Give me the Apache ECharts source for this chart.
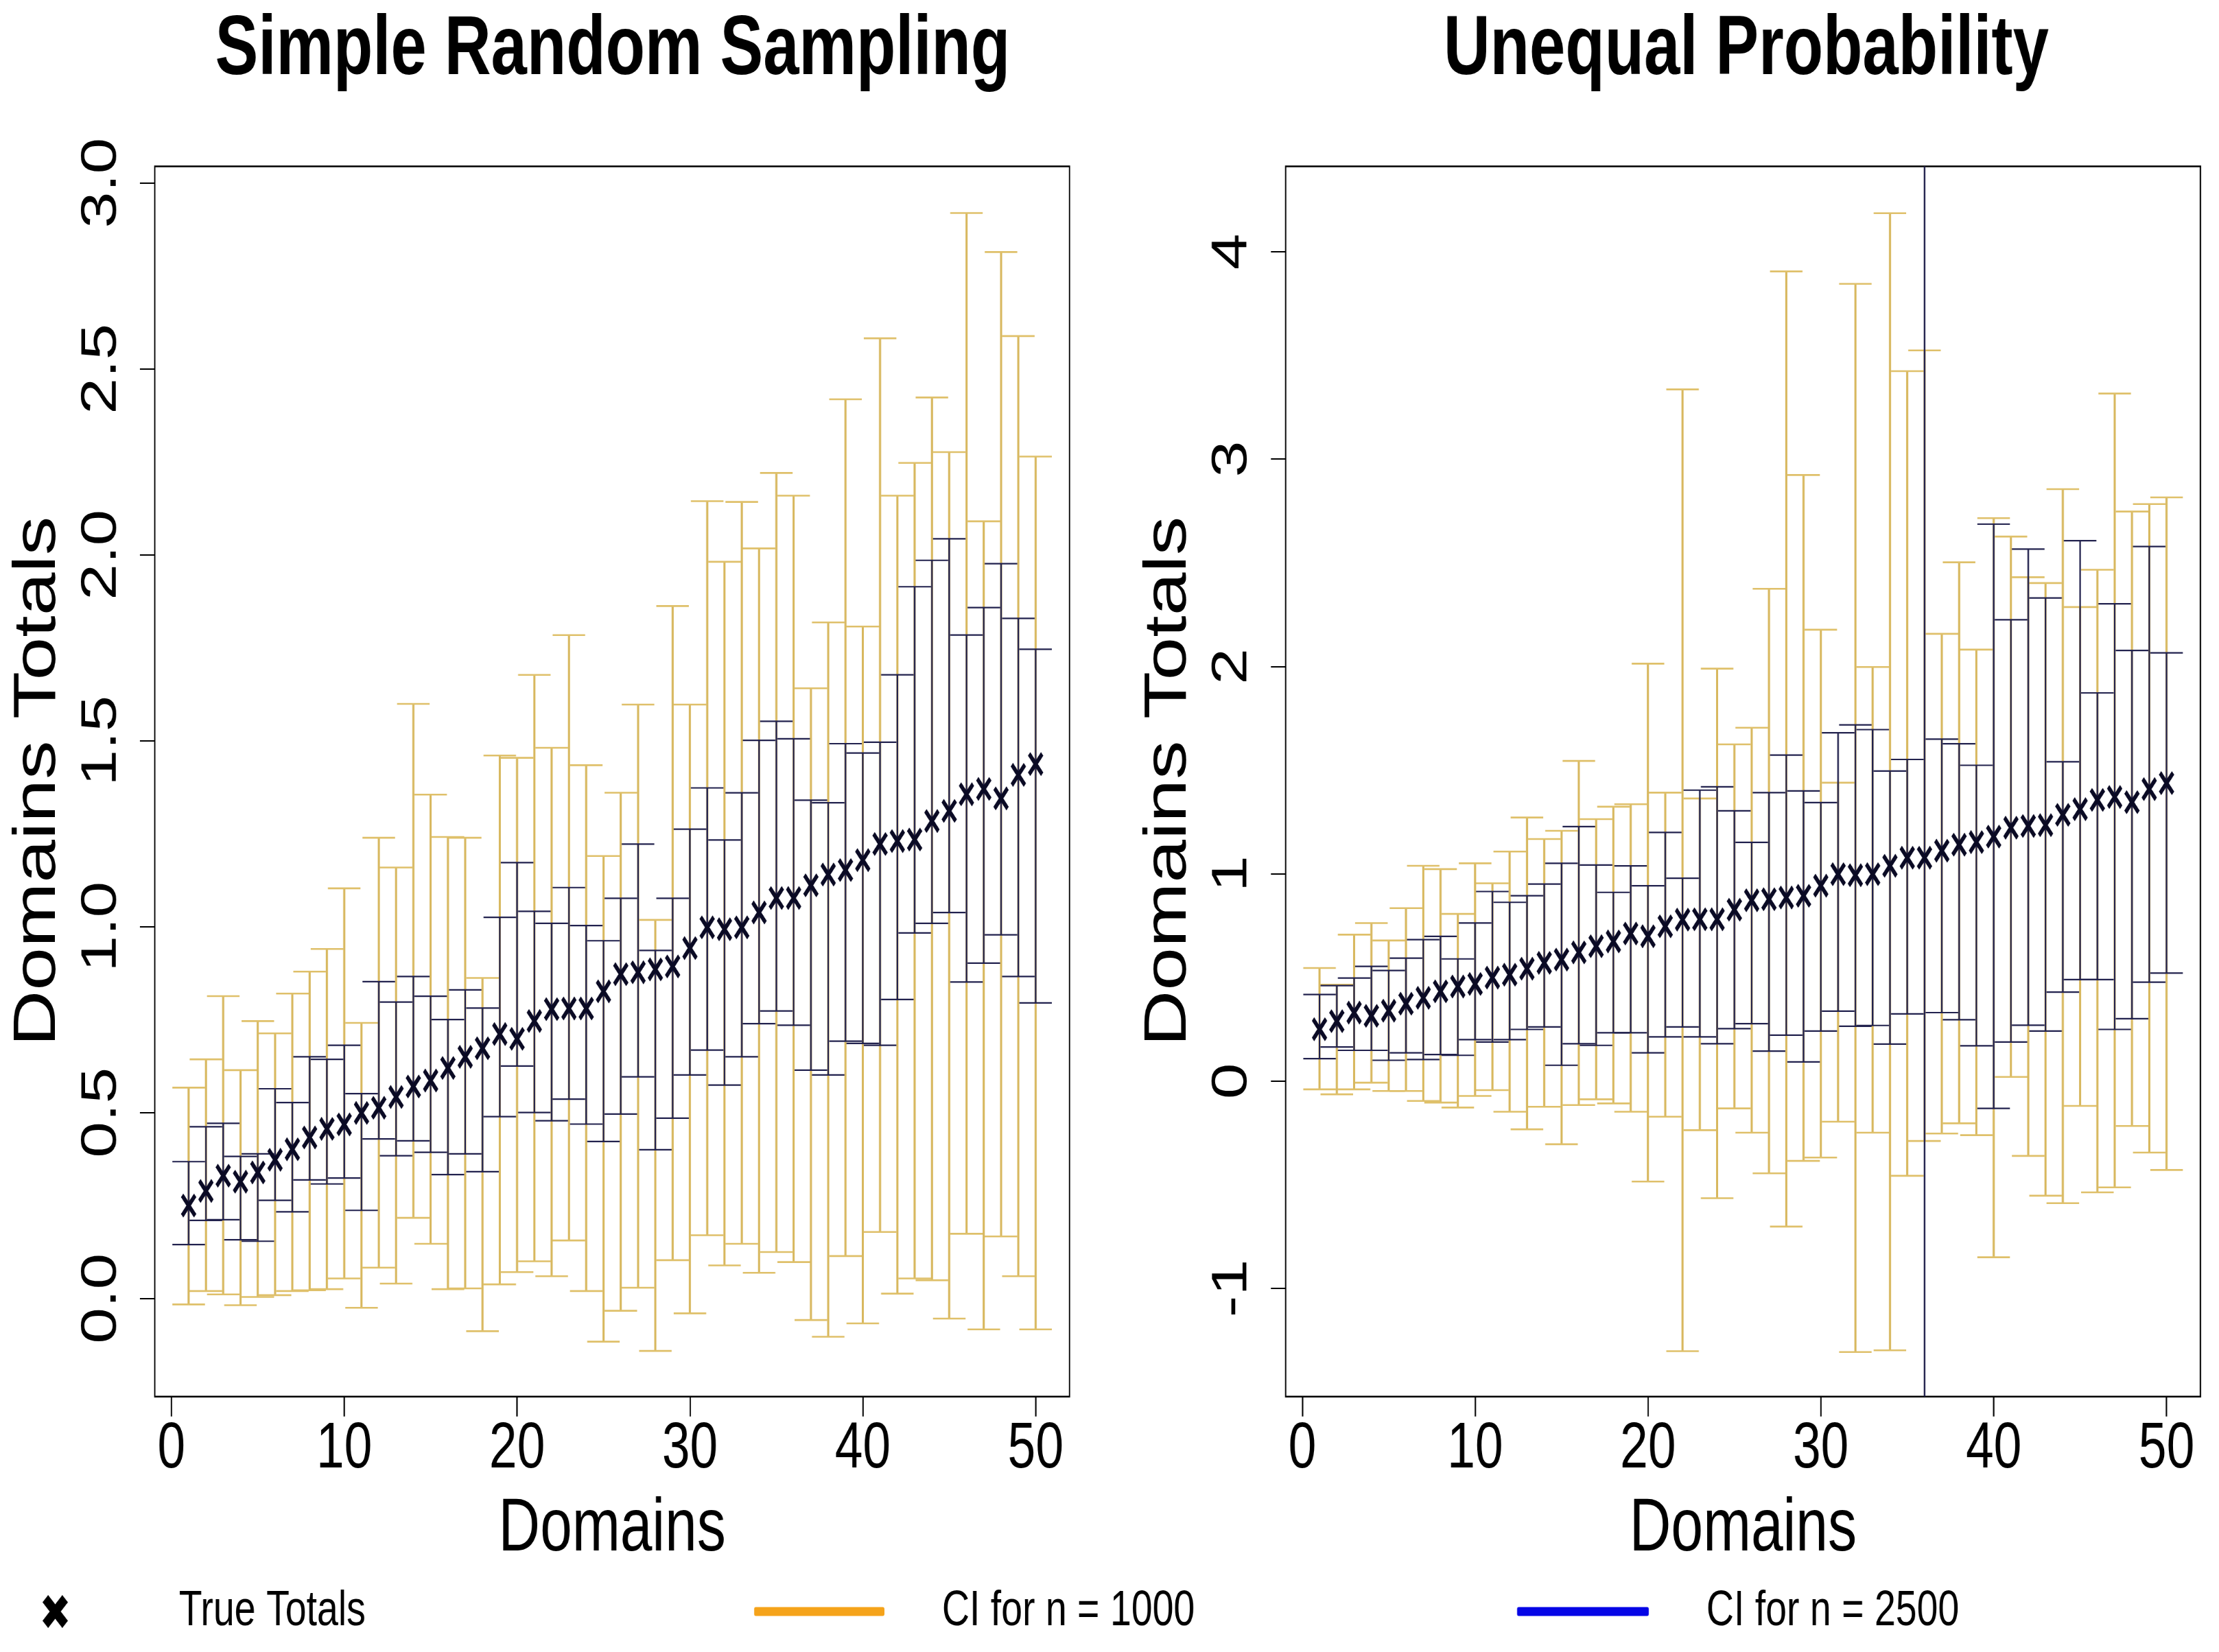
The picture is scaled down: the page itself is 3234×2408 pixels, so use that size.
<!DOCTYPE html>
<html>
<head>
<meta charset="utf-8">
<script src="https://cdn.jsdelivr.net/npm/echarts@6/dist/echarts.min.js"></script>
<style>
html,body{margin:0;padding:0;width:3234px;height:2408px;overflow:hidden;background:#ffffff;}
#chart{position:absolute;left:0;top:0;width:4200px;height:2408px;transform:scaleX(0.77);transform-origin:0 0;}
</style>
</head>
<body>
<div id="chart"></div>
<script>
// ---------- data ----------
const domains = [1,2,3,4,5,6,7,8,9,10,11,12,13,14,15,16,17,18,19,20,21,22,23,24,25,
                 26,27,28,29,30,31,32,33,34,35,36,37,38,39,40,41,42,43,44,45,46,47,48,49,50];

const trueTotals = [0.250,0.289,0.330,0.314,0.339,0.373,0.401,0.433,0.456,0.468,
                    0.499,0.513,0.542,0.570,0.586,0.620,0.650,0.673,0.711,0.698,
                    0.746,0.778,0.780,0.780,0.826,0.872,0.877,0.885,0.893,0.942,
                    0.998,0.993,0.998,1.038,1.077,1.077,1.111,1.140,1.152,1.179,
                    1.222,1.230,1.234,1.284,1.311,1.356,1.370,1.345,1.408,1.437];

// Simple Random Sampling
const srsLo1000 = [-0.016,0.020,0.011,-0.018,0.004,0.009,0.020,0.022,0.025,0.054,
                   -0.025,0.083,0.040,0.217,0.147,0.025,0.027,-0.088,0.038,0.071,
                   0.100,0.060,0.156,0.020,-0.116,-0.033,0.029,-0.141,0.103,-0.040,
                   0.170,0.089,0.147,0.069,0.125,0.098,-0.058,-0.103,0.114,-0.067,
                   0.179,0.013,0.054,0.049,-0.054,0.174,-0.083,0.167,0.060,-0.083];
const srsHi1000 = [0.567,0.643,0.813,0.614,0.746,0.713,0.820,0.879,0.940,1.103,
                   0.741,1.239,1.159,1.599,1.355,1.241,1.239,0.862,1.460,1.454,
                   1.677,1.481,1.784,1.434,1.190,1.360,1.597,1.018,1.862,1.597,
                   2.144,1.981,2.142,2.017,2.220,2.159,1.641,1.818,2.418,1.807,
                   2.582,2.159,2.247,2.423,2.276,2.919,2.090,2.814,2.588,2.264];
const srsLo2500 = [0.145,0.210,0.212,0.158,0.154,0.264,0.233,0.319,0.308,0.324,
                   0.237,0.429,0.384,0.424,0.393,0.333,0.389,0.341,0.489,0.625,
                   0.500,0.478,0.536,0.469,0.422,0.496,0.596,0.400,0.485,0.601,
                   0.668,0.574,0.650,0.739,0.773,0.735,0.614,0.601,0.692,0.686,
                   0.681,0.804,0.983,1.009,1.038,0.851,0.902,0.978,0.866,0.795];
const srsHi2500 = [0.368,0.462,0.471,0.382,0.389,0.564,0.527,0.650,0.643,0.681,
                   0.551,0.852,0.797,0.866,0.813,0.750,0.830,0.781,1.025,1.172,
                   1.041,1.009,1.105,1.003,0.962,1.076,1.222,0.936,1.076,1.262,
                   1.373,1.233,1.360,1.501,1.552,1.505,1.340,1.333,1.492,1.467,
                   1.496,1.677,1.914,1.985,2.043,1.784,1.858,1.976,1.829,1.746];

// Unequal Probability
const upLo1000 = [-0.040,-0.064,-0.040,-0.008,-0.048,-0.048,-0.096,-0.104,-0.128,-0.072,
                  -0.044,-0.148,-0.233,-0.124,-0.305,-0.116,-0.088,-0.108,-0.148,-0.485,
                  -0.172,-1.303,-0.237,-0.565,-0.132,-0.249,-0.445,-0.702,-0.385,-0.369,
                  -0.196,-1.307,-0.249,-1.299,-0.457,-0.289,-0.253,-0.204,-0.261,-0.850,
                  0.020,-0.361,-0.553,-0.589,-0.120,-0.537,-0.513,-0.217,-0.345,-0.429];
const upHi1000 = [0.545,0.465,0.706,0.762,0.678,0.834,1.038,1.022,0.806,1.050,
                  0.954,1.107,1.271,1.167,1.207,1.544,1.263,1.323,1.335,2.013,
                  1.391,3.336,1.363,1.989,1.624,1.704,2.374,3.905,2.923,2.177,
                  1.439,3.845,1.997,4.186,3.424,3.524,2.157,2.502,2.081,2.715,
                  2.626,2.430,2.402,2.855,2.286,2.466,3.316,2.747,2.783,2.815];
const upLo2500 = [0.108,0.164,0.148,0.148,0.100,0.136,0.104,0.128,0.124,0.200,
                  0.188,0.200,0.249,0.261,0.076,0.180,0.172,0.233,0.233,0.136,
                  0.213,0.261,0.213,0.180,0.253,0.277,0.144,0.221,0.092,0.241,
                  0.337,0.264,0.268,0.178,0.324,-2.600,0.330,0.296,0.170,-0.132,
                  0.188,0.269,0.241,0.429,0.489,0.489,0.249,0.301,0.477,0.521];
const upHi2500 = [0.417,0.460,0.497,0.553,0.533,0.593,0.682,0.698,0.589,0.762,
                  0.914,0.862,0.894,0.950,1.050,1.227,1.042,0.910,1.038,0.942,
                  1.199,0.978,1.403,1.419,1.303,1.151,1.391,1.572,1.399,1.343,
                  1.680,1.718,1.695,1.495,1.551,5.600,1.649,1.627,1.523,2.686,
                  2.225,2.566,2.330,1.540,2.606,1.872,2.302,2.077,2.578,2.065];

// tick labels
const xTicks = [0,10,20,30,40,50];
const srsYTicks = [0,0.5,1,1.5,2,2.5,3];
const upYTicks = [-1,0,1,2,3,4];

// ---------- styling ----------
const FONT = "'Liberation Sans', Arial, Helvetica, sans-serif";
const CAP_HALF = 30.8;
const X_PATH = 'path://M0,15L15,0L100,85L85,100Z M85,0L100,15L15,100L0,85Z';
const X_PATH_BOLD = 'path://M0,22L22,0L100,78L78,100Z M78,0L100,22L22,100L0,78Z';
const ORANGE_LEGEND = '#F5A31A';
const BLUE_LEGEND = '#0505E6';

function ciRenderer(vColor, vWidth, cColor, cWidth) {
  return function (params, api) {
    const x = api.value(0), lo = api.value(1), hi = api.value(2);
    const pLo = api.coord([x, lo]);
    const pHi = api.coord([x, hi]);
    return {
      type: 'group',
      children: [
        {type: 'line', shape: {x1: pLo[0], y1: pLo[1], x2: pHi[0], y2: pHi[1]},
         style: {stroke: vColor, lineWidth: vWidth}},
        {type: 'line', shape: {x1: pHi[0] - CAP_HALF, y1: pHi[1], x2: pHi[0] + CAP_HALF, y2: pHi[1]},
         style: {stroke: cColor, lineWidth: cWidth}},
        {type: 'line', shape: {x1: pLo[0] - CAP_HALF, y1: pLo[1], x2: pLo[0] + CAP_HALF, y2: pLo[1]},
         style: {stroke: cColor, lineWidth: cWidth}}
      ]
    };
  };
}

function ciData(lo, hi) { return domains.map((d, i) => [d, lo[i], hi[i]]); }
function ptData(v) { return domains.map((d, i) => [d, v[i]]); }

function xAxisDef(gi) {
  return {
    gridIndex: gi, type: 'value', min: -0.96, max: 51.96,
    axisLine: {show: false, onZero: false}, splitLine: {show: false},
    axisTick: {show: true, customValues: xTicks, length: 29, lineStyle: {color: '#000', width: 2.6}},
    axisLabel: {customValues: xTicks, margin: 30, fontSize: 95, lineHeight: 95, color: '#000', fontFamily: FONT},
    name: 'Domains', nameLocation: 'middle', nameGap: 140,
    nameTextStyle: {fontSize: 109, lineHeight: 109, color: '#000', fontFamily: FONT}
  };
}
function yAxisDef(gi, mn, mx, ticks, fmt) {
  return {
    gridIndex: gi, type: 'value', min: mn, max: mx,
    axisLine: {show: false, onZero: false}, splitLine: {show: false},
    axisTick: {show: true, customValues: ticks, length: 28, lineStyle: {color: '#000', width: 2}},
    axisLabel: {customValues: ticks, rotate: 90, margin: 53, fontSize: 95, lineHeight: 95,
                color: '#000', fontFamily: FONT, formatter: fmt},
    name: 'Domains Totals', nameLocation: 'middle', nameGap: 164, nameRotate: 90,
    nameTextStyle: {fontSize: 113, lineHeight: 113, color: '#000', fontFamily: FONT}
  };
}

function panelSeries(gi, lo1000, hi1000, lo2500, hi2500) {
  return [
    {name: 'CI for n = 1000', type: 'custom', xAxisIndex: gi, yAxisIndex: gi, clip: true, z: 2,
     itemStyle: {color: ORANGE_LEGEND}, encode: {x: 0, y: [1, 2]},
     renderItem: ciRenderer('#D8B85F', 4, '#DFC06A', 2.6), data: ciData(lo1000, hi1000)},
    {name: 'CI for n = 2500', type: 'custom', xAxisIndex: gi, yAxisIndex: gi, clip: true, z: 3,
     itemStyle: {color: BLUE_LEGEND}, encode: {x: 0, y: [1, 2]},
     renderItem: ciRenderer('#22224E', 3, '#22224E', 2.2), data: ciData(lo2500, hi2500)},
    {name: 'True Totals', type: 'scatter', xAxisIndex: gi, yAxisIndex: gi, z: 4,
     symbol: X_PATH, symbolSize: [29, 35], itemStyle: {color: '#0A0A24', opacity: 1},
     data: ptData(trueTotals)}
  ];
}

const gridStyle = {show: true, borderColor: '#000', borderWidth: 2.5, backgroundColor: 'transparent',
                   containLabel: false, top: 242.4, height: 1793.3, width: 1731.4};

const option = {
  animation: false,
  backgroundColor: '#ffffff',
  title: [
    {text: 'Simple Random Sampling', left: 1159.7, top: 74, padding: 0,
     textAlign: 'center', textVerticalAlign: 'middle',
     textStyle: {fontSize: 122, lineHeight: 122, fontWeight: 'bold', color: '#000', fontFamily: FONT}},
    {text: 'Unequal Probability', left: 3305, top: 74, padding: 0,
     textAlign: 'center', textVerticalAlign: 'middle',
     textStyle: {fontSize: 122, lineHeight: 122, fontWeight: 'bold', color: '#000', fontFamily: FONT}}
  ],
  legend: [
    {data: [{name: 'True Totals', icon: X_PATH_BOLD, itemStyle: {color: '#000'}}], left: 80.5, top: 2313, padding: 0,
     itemWidth: 48, itemHeight: 48, selectedMode: false,
     textStyle: {fontSize: 72, lineHeight: 72, color: '#000', fontFamily: FONT, padding: [0, 0, 0, 205]}},
    {data: [{name: 'CI for n = 1000', icon: 'roundRect'}], left: 1427.3, top: 2313, padding: 0,
     itemWidth: 246.7, itemHeight: 13, selectedMode: false,
     textStyle: {fontSize: 72, lineHeight: 72, color: '#000', fontFamily: FONT, padding: [0, 0, 0, 104]}},
    {data: [{name: 'CI for n = 2500', icon: 'roundRect'}], left: 2871.4, top: 2313, padding: 0,
     itemWidth: 249.4, itemHeight: 13, selectedMode: false,
     textStyle: {fontSize: 72, lineHeight: 72, color: '#000', fontFamily: FONT, padding: [0, 0, 0, 104]}}
  ],
  grid: [
    Object.assign({left: 292.9}, gridStyle),
    Object.assign({left: 2433.4}, gridStyle)
  ],
  xAxis: [xAxisDef(0), xAxisDef(1)],
  yAxis: [
    yAxisDef(0, -0.2638, 3.0446, srsYTicks, v => Number(v).toFixed(1)),
    yAxisDef(1, -1.522, 4.412, upYTicks, v => String(v))
  ],
  series: [].concat(
    panelSeries(0, srsLo1000, srsHi1000, srsLo2500, srsHi2500),
    panelSeries(1, upLo1000, upHi1000, upLo2500, upHi2500)
  )
};

const chart = echarts.init(document.getElementById('chart'), null, {renderer: 'canvas'});
chart.setOption(option);
</script>
</body>
</html>
